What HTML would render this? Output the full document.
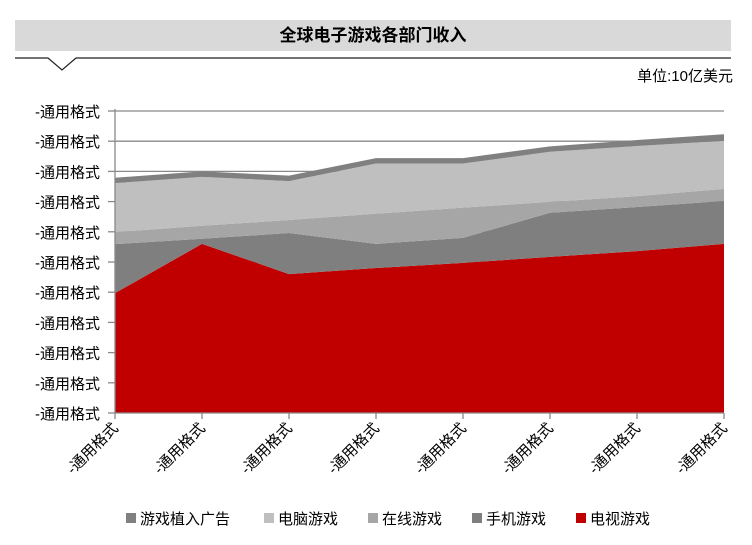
<!DOCTYPE html>
<html><head><meta charset="utf-8"><style>
body{margin:0;background:#fff;}
svg text{font-family:"Liberation Sans","Noto Sans CJK SC",sans-serif;}
</style></head><body>
<svg width="752" height="540" xmlns="http://www.w3.org/2000/svg">
<rect x="15" y="20" width="716" height="31" fill="#d9d9d9"/>
<text x="373" y="41" font-size="17" font-weight="bold" text-anchor="middle">全球电子游戏各部门收入</text>
<polyline points="15,58 48,58 62,70 76,58 731,58" fill="none" stroke="#222" stroke-width="1.2"/>
<text x="733" y="81" font-size="15" text-anchor="end">单位:10亿美元</text>
<g id="grid"></g><g id="areas"></g><g id="axes"></g><g id="legend"></g>
</svg>
<script>
const categories=["-通用格式","-通用格式","-通用格式","-通用格式","-通用格式","-通用格式","-通用格式","-通用格式"];
const yTickLabels=["-通用格式","-通用格式","-通用格式","-通用格式","-通用格式","-通用格式","-通用格式","-通用格式","-通用格式","-通用格式","-通用格式"];
const tvGames=[3.97,5.6,4.6,4.8,4.97,5.17,5.36,5.6];
const mobileGames=[1.62,0.17,1.36,0.8,0.83,1.46,1.46,1.42];
const onlineGames=[0.4,0.43,0.43,1.0,1.0,0.36,0.36,0.4];
const pcGames=[1.62,1.62,1.29,1.66,1.46,1.66,1.66,1.59];
const adGames=[0.18,0.18,0.18,0.18,0.18,0.18,0.2,0.22];
const seriesNames=["游戏植入广告","电脑游戏","在线游戏","手机游戏","电视游戏"];
const NS="http://www.w3.org/2000/svg";
const x0=115,x1=724,yBottom=413,yTop=111,yMax=10;
const xs=i=>x0+i*(x1-x0)/(categories.length-1);
const ys=v=>yBottom-v/yMax*(yBottom-yTop);
function mk(t,a,p){const e=document.createElementNS(NS,t);for(const k in a)e.setAttribute(k,a[k]);p.appendChild(e);return e;}
const grid=document.getElementById('grid'),areas=document.getElementById('areas'),axes=document.getElementById('axes'),legend=document.getElementById('legend');
for(let i=0;i<yTickLabels.length;i++){
 const v=i*yMax/(yTickLabels.length-1),y=ys(v);
 if(i>0){const g=mk('line',{x1:x0,x2:x1,y1:y,y2:y,stroke:'#898989','stroke-width':1.3},grid);
 
 }
 const t=mk('line',{x1:108,x2:x0,y1:y,y2:y,stroke:'#898989','stroke-width':1.3},axes);
 
 
 const l=mk('text',{x:100,y:y+6,'font-size':15,'text-anchor':'end'},axes);l.textContent=yTickLabels[i];
 
 
}
const stack=[tvGames,mobileGames,onlineGames,pcGames,adGames];
const colors=["#c00000","#7f7f7f","#a6a6a6","#bfbfbf","#808080"];
const names=["tv-games-area","mobile-games-area","online-games-area","pc-games-area","ad-games-area"];
let base=categories.map(()=>0);
stack.forEach((s,k)=>{
 const top=base.map((b,i)=>b+s[i]);
 let pts=top.map((v,i)=>xs(i)+','+ys(v));
 for(let i=base.length-1;i>=0;i--)pts.push(xs(i)+','+ys(base[i]));
 const p=mk('polygon',{points:pts.join(' '),fill:colors[k]},areas);
 
 
 base=top;
});
const ax=mk('line',{x1:x0,x2:x0,y1:yTop-2,y2:yBottom,stroke:'#898989','stroke-width':1.3},axes);


const bx=mk('line',{x1:x0,x2:x1,y1:yBottom,y2:yBottom,stroke:'#898989','stroke-width':1.3},axes);


categories.forEach((c,i)=>{
 const x=xs(i);
 const t=mk('line',{x1:x,x2:x,y1:yBottom,y2:yBottom+6,stroke:'#898989','stroke-width':1.3},axes);
 
 
 const l=mk('text',{x:x+4,y:yBottom+16,'font-size':15,'text-anchor':'end',transform:`rotate(-45 ${x+4} ${yBottom+16})`},axes);l.textContent=c;
 
 
});
const legendColors=["#808080","#bfbfbf","#a6a6a6","#7f7f7f","#c00000"];
const legendX=[126,264,368,472,576];
seriesNames.forEach((n,i)=>{
 const g=mk('g',{},legend);
 
 
 mk('rect',{x:legendX[i],y:513,width:10,height:10,fill:legendColors[i]},g);
 const t=mk('text',{x:legendX[i]+14,y:524,'font-size':15},g);t.textContent=n;
});
</script>
</body></html>
